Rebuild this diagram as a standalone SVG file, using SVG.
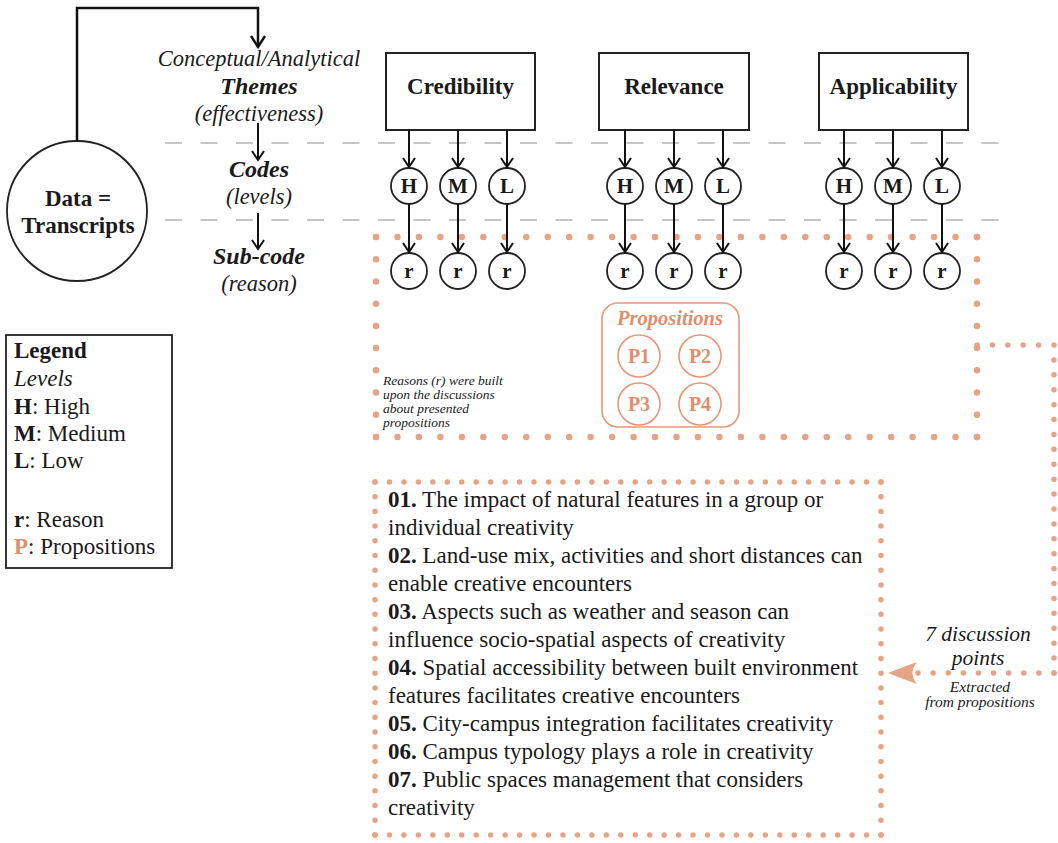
<svg xmlns="http://www.w3.org/2000/svg" width="1058" height="843" viewBox="0 0 1058 843">
  <defs>
    <marker id="chev" viewBox="-12 -8 14 16" markerWidth="14" markerHeight="16" refX="0" refY="0" orient="auto" markerUnits="userSpaceOnUse">
      <path d="M-9,-6 L0,0 L-9,6" fill="none" stroke="#111" stroke-width="2"/>
    </marker>
    <marker id="chevBig" viewBox="-13 -9 15 18" markerWidth="15" markerHeight="18" refX="0" refY="0" orient="auto" markerUnits="userSpaceOnUse">
      <path d="M-11,-7 L0,0 L-11,7" fill="none" stroke="#111" stroke-width="2.4"/>
    </marker>
  </defs>
  <style>
    .serif { font-family: "Liberation Serif", "Times New Roman", serif; }
    .lbl { font-family: "Liberation Serif", "Times New Roman", serif; font-size: 22.5px; fill: #1a1a1a; text-anchor: middle; }
    .it { font-style: italic; }
    .bd { font-weight: bold; font-size: 24px; }
    .box { fill: #fff; stroke: #222; stroke-width: 2; }
    .node { fill: #fff; stroke: #222; stroke-width: 1.8; }
    .ntext { font-family: "Liberation Serif", "Times New Roman", serif; font-size: 21px; font-weight: bold; fill: #1a1a1a; text-anchor: middle; }
    .head { font-family: "Liberation Serif", "Times New Roman", serif; font-size: 23px; font-weight: bold; fill: #1a1a1a; text-anchor: middle; }
    .arr { stroke: #111; stroke-width: 2; fill: none; marker-end: url(#chev); }
    .dash { stroke: #b3b3b3; stroke-width: 1.5; stroke-dasharray: 17 18.5; fill: none; }
    .dotA { stroke: #e6a486; stroke-width: 6.5; stroke-linecap: round; fill: none; }
    .dotB { stroke: #e6a486; stroke-width: 5.5; stroke-linecap: round; fill: none; }
    .orange { fill: #e08e6b; }
    .pnode { fill: #fff; stroke: #e49877; stroke-width: 1.6; }
    .ptext { font-family: "Liberation Serif", "Times New Roman", serif; font-size: 20px; font-weight: bold; fill: #e08e6b; text-anchor: middle; }
    .list { font-family: "Liberation Serif", "Times New Roman", serif; font-size: 23px; fill: #1a1a1a; }
    .leg { font-family: "Liberation Serif", "Times New Roman", serif; font-size: 23px; fill: #1a1a1a; }
  </style>

  <!-- guide dashed lines -->
  <g id="guides">
    <line class="dash" x1="165" y1="143" x2="1002" y2="143"/>
    <line class="dash" x1="165" y1="220" x2="1002" y2="220"/>
  </g>

  <!-- orange dotted frames -->
  <g id="reason-frame">
    <line class="dotA" x1="376" y1="237" x2="977" y2="237" stroke-dasharray="0 21.464"/>
    <line class="dotA" x1="376" y1="437" x2="977" y2="437" stroke-dasharray="0 21.464"/>
    <line class="dotA" x1="376" y1="237" x2="376" y2="437" stroke-dasharray="0 22.222"/>
    <line class="dotA" x1="977" y1="237" x2="977" y2="437" stroke-dasharray="0 22.222"/>
  </g>

  <!-- Data node -->
  <g id="data">
    <circle class="node" cx="77" cy="211" r="70" stroke-width="2.4"/>
    <text class="head" x="78" y="206">Data =</text>
    <text class="head" x="78" y="233">Transcripts</text>
  </g>

  <!-- level labels -->
  <g id="level-labels">
    <text class="lbl it" x="259" y="66">Conceptual/Analytical</text>
    <text class="lbl it bd" x="259" y="94">Themes</text>
    <text class="lbl it" x="259" y="121">(effectiveness)</text>
    <text class="lbl it bd" x="259" y="177">Codes</text>
    <text class="lbl it" x="259" y="204">(levels)</text>
    <text class="lbl it bd" x="259" y="264">Sub-code</text>
    <text class="lbl it" x="259" y="291">(reason)</text>
  </g>

  <!-- Theme boxes -->
  <g id="credibility">
    <rect class="box" x="386" y="53" width="149" height="77"/>
    <text class="head" x="460.5" y="94">Credibility</text>
  </g>
  <g id="relevance">
    <rect class="box" x="599" y="53" width="150" height="77"/>
    <text class="head" x="674" y="94">Relevance</text>
  </g>
  <g id="applicability">
    <rect class="box" x="819" y="53" width="149" height="77"/>
    <text class="head" x="893.5" y="94">Applicability</text>
  </g>

  <!-- Code nodes -->
  <g id="cred-codes">
    <circle class="node" cx="409" cy="186" r="18"/><text class="ntext" x="409" y="193">H</text>
    <circle class="node" cx="458" cy="186" r="18"/><text class="ntext" x="458" y="193">M</text>
    <circle class="node" cx="507" cy="186" r="18"/><text class="ntext" x="507" y="193">L</text>
  </g>
  <g id="rel-codes">
    <circle class="node" cx="625" cy="186" r="18"/><text class="ntext" x="625" y="193">H</text>
    <circle class="node" cx="674" cy="186" r="18"/><text class="ntext" x="674" y="193">M</text>
    <circle class="node" cx="723" cy="186" r="18"/><text class="ntext" x="723" y="193">L</text>
  </g>
  <g id="app-codes">
    <circle class="node" cx="844" cy="186" r="18"/><text class="ntext" x="844" y="193">H</text>
    <circle class="node" cx="893" cy="186" r="18"/><text class="ntext" x="893" y="193">M</text>
    <circle class="node" cx="942" cy="186" r="18"/><text class="ntext" x="942" y="193">L</text>
  </g>

  <!-- Sub-code nodes -->
  <g id="cred-reasons">
    <circle class="node" cx="409" cy="271" r="18"/><text class="ntext" x="409" y="278">r</text>
    <circle class="node" cx="458" cy="271" r="18"/><text class="ntext" x="458" y="278">r</text>
    <circle class="node" cx="507" cy="271" r="18"/><text class="ntext" x="507" y="278">r</text>
  </g>
  <g id="rel-reasons">
    <circle class="node" cx="625" cy="271" r="18"/><text class="ntext" x="625" y="278">r</text>
    <circle class="node" cx="674" cy="271" r="18"/><text class="ntext" x="674" y="278">r</text>
    <circle class="node" cx="723" cy="271" r="18"/><text class="ntext" x="723" y="278">r</text>
  </g>
  <g id="app-reasons">
    <circle class="node" cx="844" cy="271" r="18"/><text class="ntext" x="844" y="278">r</text>
    <circle class="node" cx="893" cy="271" r="18"/><text class="ntext" x="893" y="278">r</text>
    <circle class="node" cx="942" cy="271" r="18"/><text class="ntext" x="942" y="278">r</text>
  </g>

  <!-- connectors -->
  <g id="connectors">
    <path d="M77,141 V8 H258 V47" fill="none" stroke="#111" stroke-width="2.5" marker-end="url(#chevBig)"/>
    <line class="arr" x1="258" y1="123" x2="258" y2="160"/>
    <line class="arr" x1="258" y1="213" x2="258" y2="249"/>
    <line class="arr" x1="409" y1="130" x2="409" y2="167"/>
    <line class="arr" x1="458" y1="130" x2="458" y2="167"/>
    <line class="arr" x1="507" y1="130" x2="507" y2="167"/>
    <line class="arr" x1="625" y1="130" x2="625" y2="167"/>
    <line class="arr" x1="674" y1="130" x2="674" y2="167"/>
    <line class="arr" x1="723" y1="130" x2="723" y2="167"/>
    <line class="arr" x1="844" y1="130" x2="844" y2="167"/>
    <line class="arr" x1="893" y1="130" x2="893" y2="167"/>
    <line class="arr" x1="942" y1="130" x2="942" y2="167"/>
    <line class="arr" x1="409" y1="204" x2="409" y2="252"/>
    <line class="arr" x1="458" y1="204" x2="458" y2="252"/>
    <line class="arr" x1="507" y1="204" x2="507" y2="252"/>
    <line class="arr" x1="625" y1="204" x2="625" y2="252"/>
    <line class="arr" x1="674" y1="204" x2="674" y2="252"/>
    <line class="arr" x1="723" y1="204" x2="723" y2="252"/>
    <line class="arr" x1="844" y1="204" x2="844" y2="252"/>
    <line class="arr" x1="893" y1="204" x2="893" y2="252"/>
    <line class="arr" x1="942" y1="204" x2="942" y2="252"/>
    <!-- dotted connector to discussion points -->
    <line class="dotB" x1="977" y1="345" x2="1054" y2="345" stroke-dasharray="0 15.4"/>
    <line class="dotB" x1="1054" y1="345" x2="1054" y2="673" stroke-dasharray="0 14.909"/>
    <line class="dotB" x1="1054" y1="673" x2="918" y2="673" stroke-dasharray="0 15.111"/>
    <path d="M888,673 Q903,667 917,662 Q908,673 917,684 Q903,679 888,673 Z" fill="#e6a486"/>
  </g>

  <!-- Propositions -->
  <g id="propositions">
    <rect x="602" y="303" width="137" height="124" rx="16" fill="#fff" stroke="#e49877" stroke-width="1.6"/>
    <text class="serif it orange" x="670" y="325" font-size="20.5" font-weight="bold" text-anchor="middle">Propositions</text>
    <circle class="pnode" cx="639" cy="356" r="21"/><text class="ptext" x="639" y="363">P1</text>
    <circle class="pnode" cx="700" cy="356" r="21"/><text class="ptext" x="700" y="363">P2</text>
    <circle class="pnode" cx="639" cy="404" r="21"/><text class="ptext" x="639" y="411">P3</text>
    <circle class="pnode" cx="700" cy="404" r="21"/><text class="ptext" x="700" y="411">P4</text>
  </g>

  <!-- note -->
  <g id="reasons-note" class="serif it" font-size="13.5" fill="#1a1a1a">
    <text x="383" y="385">Reasons (r) were built</text>
    <text x="383" y="399">upon the discussions</text>
    <text x="383" y="413">about presented</text>
    <text x="383" y="427">propositions</text>
  </g>

  <!-- Legend -->
  <g id="legend">
    <rect x="6" y="335" width="166" height="233" fill="#fff" stroke="#222" stroke-width="1.8"/>
    <text class="leg" x="14" y="358" font-size="25" font-weight="bold">Legend</text>
    <text class="leg it" x="14" y="386">Levels</text>
    <text class="leg" x="14" y="414"><tspan font-weight="bold">H</tspan>: High</text>
    <text class="leg" x="14" y="441"><tspan font-weight="bold">M</tspan>: Medium</text>
    <text class="leg" x="14" y="468"><tspan font-weight="bold">L</tspan>: Low</text>
    <text class="leg" x="14" y="527"><tspan font-weight="bold">r</tspan>: Reason</text>
    <text class="leg" x="14" y="554"><tspan font-weight="bold" fill="#e08e6b">P</tspan>: Propositions</text>
  </g>

  <!-- Discussion points -->
  <g id="discussion-points">
    <line class="dotB" x1="375" y1="482" x2="881" y2="482" stroke-dasharray="0 14.457"/>
    <line class="dotB" x1="375" y1="835" x2="881" y2="835" stroke-dasharray="0 14.457"/>
    <line class="dotB" x1="375" y1="482" x2="375" y2="835" stroke-dasharray="0 14.708"/>
    <line class="dotB" x1="881" y1="482" x2="881" y2="835" stroke-dasharray="0 14.708"/>
    <text class="list" x="388" y="507"><tspan font-weight="bold">01.</tspan> The impact of natural features in a group or</text>
    <text class="list" x="388" y="535">individual creativity</text>
    <text class="list" x="388" y="563"><tspan font-weight="bold">02.</tspan> Land-use mix, activities and short distances can</text>
    <text class="list" x="388" y="591">enable creative encounters</text>
    <text class="list" x="388" y="619"><tspan font-weight="bold">03.</tspan> Aspects such as weather and season can</text>
    <text class="list" x="388" y="647">influence socio-spatial aspects of creativity</text>
    <text class="list" x="388" y="675"><tspan font-weight="bold">04.</tspan> Spatial accessibility between built environment</text>
    <text class="list" x="388" y="703">features facilitates creative encounters</text>
    <text class="list" x="388" y="731"><tspan font-weight="bold">05.</tspan> City-campus integration facilitates creativity</text>
    <text class="list" x="388" y="759"><tspan font-weight="bold">06.</tspan> Campus typology plays a role in creativity</text>
    <text class="list" x="388" y="787"><tspan font-weight="bold">07.</tspan> Public spaces management that considers</text>
    <text class="list" x="388" y="815">creativity</text>
  </g>

  <!-- connector labels -->
  <g id="connector-labels" class="serif it" fill="#1a1a1a" text-anchor="middle">
    <text x="978" y="641" font-size="21.5">7 discussion</text>
    <text x="978" y="665" font-size="21.5">points</text>
    <text x="980" y="692" font-size="15.5">Extracted</text>
    <text x="980" y="707" font-size="15.5">from propositions</text>
  </g>
</svg>
